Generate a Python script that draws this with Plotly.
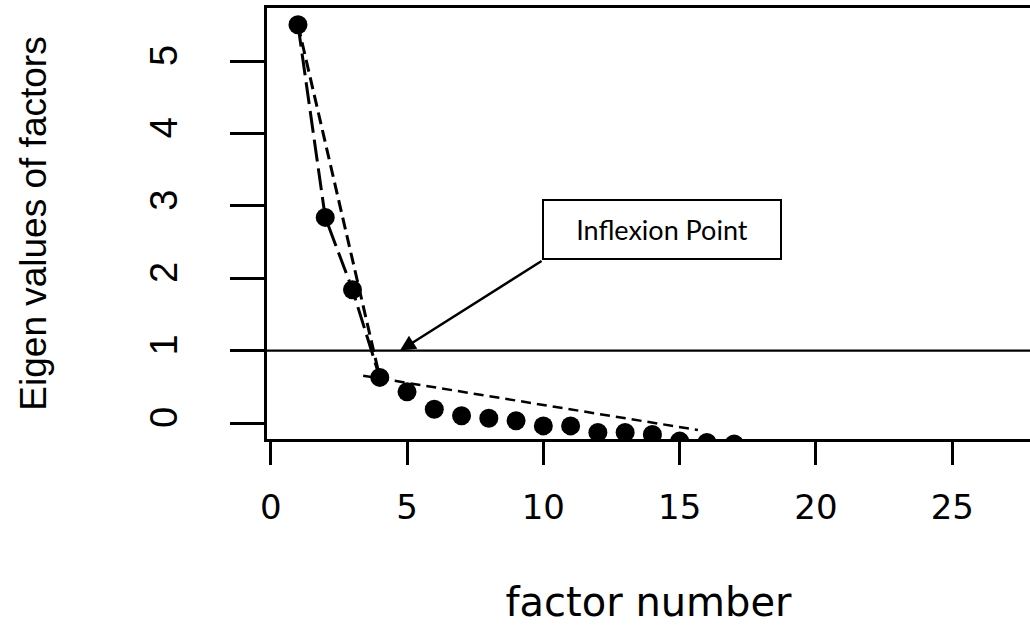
import plotly.graph_objects as go

# ---- data ----
factor_number = [1, 2, 3, 4, 5, 6, 7, 8, 9, 10, 11, 12, 13, 14, 15, 16, 17]
eigen_values = [5.50, 2.84, 1.84, 0.63, 0.43, 0.19, 0.10, 0.065, 0.03, -0.04,
                -0.04, -0.13, -0.13, -0.16, -0.25, -0.27, -0.29]

# scree connecting line (first four factors)
scree_x = [1, 2, 3, 4]
scree_y = [5.50, 2.84, 1.84, 0.63]

# steep fitted line and shallow fitted line
steep_x = [1, 4]
steep_y = [5.50, 0.63]
shallow_x = [3.39, 15.67]
shallow_y = [0.653, -0.097]

threshold = 1
x_ticks = [0, 5, 10, 15, 20, 25]
y_ticks = [0, 1, 2, 3, 4, 5]

fig = go.Figure()

fig.add_trace(go.Scatter(x=scree_x, y=scree_y, mode="lines",
                         line=dict(color="black", width=3, dash="22px,7px"),
                         showlegend=False, hoverinfo="skip"))
fig.add_trace(go.Scatter(x=steep_x, y=steep_y, mode="lines",
                         line=dict(color="black", width=3, dash="12px,6px"),
                         showlegend=False, hoverinfo="skip"))
fig.add_trace(go.Scatter(x=shallow_x, y=shallow_y, mode="lines",
                         line=dict(color="black", width=2.5, dash="10px,6px"),
                         showlegend=False, hoverinfo="skip"))
fig.add_trace(go.Scatter(x=factor_number, y=eigen_values, mode="markers",
                         marker=dict(color="black", size=19, symbol="circle"),
                         showlegend=False))

fig.add_shape(type="line", xref="paper", x0=0, x1=1, yref="y",
              y0=threshold, y1=threshold, line=dict(color="black", width=2.2))

# arrow to the inflexion point
fig.add_annotation(x=4.74, y=1.0, ax=9.99, ay=2.25, xref="x", yref="y",
                   axref="x", ayref="y", text="", showarrow=True,
                   arrowhead=2, arrowsize=1.3, arrowwidth=2.4,
                   arrowcolor="black", standoff=0, startstandoff=0)
# label box
fig.add_annotation(x=14.37, y=2.666, xref="x", yref="y", showarrow=False,
                   text="Inflexion Point",
                   font=dict(family="Lato", size=27, color="black"),
                   width=236, height=57, bordercolor="black", borderwidth=2,
                   borderpad=0, bgcolor="white", align="center", valign="middle")

fig.update_layout(
    width=1030, height=625,
    margin=dict(l=267, r=0, t=8, b=186),
    paper_bgcolor="white", plot_bgcolor="white",
    xaxis=dict(range=[-0.136, 27.85], tickvals=x_ticks,
               showgrid=False, zeroline=False,
               showline=True, linecolor="black", linewidth=2.5, mirror=True,
               ticks="outside", ticklen=23, tickwidth=2.5, tickcolor="black",
               ticklabelstandoff=13,
               tickfont=dict(family="DejaVu Sans", size=34, color="black"),
               title=dict(text="factor number", standoff=68,
                          font=dict(family="DejaVu Sans", size=40, color="black"))),
    yaxis=dict(range=[-0.221, 5.732], tickvals=y_ticks,
               showgrid=False, zeroline=False,
               showline=True, linecolor="black", linewidth=2.5, mirror=False,
               ticks="outside", ticklen=34, tickwidth=2.5, tickcolor="black",
               tickangle=-90, ticklabelstandoff=38,
               tickfont=dict(family="Liberation Sans", size=38, color="black"),
               title=dict(text="Eigen values of factors", standoff=86,
                          font=dict(family="Liberation Sans", size=37, color="black"))),
)

fig.write_html("out.html")
